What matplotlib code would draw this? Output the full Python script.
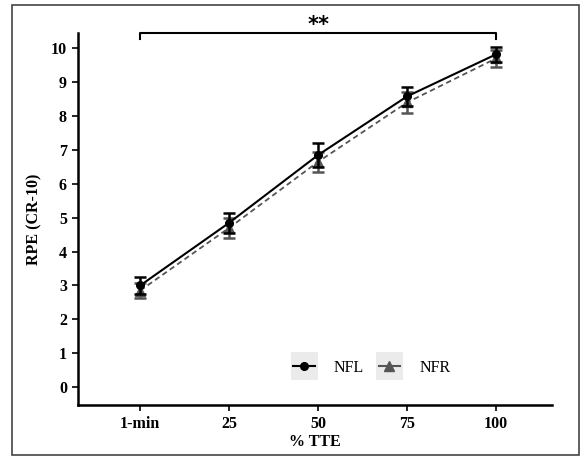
import matplotlib.pyplot as plt
from matplotlib.patches import Rectangle
from matplotlib.lines import Line2D

plt.rcParams["font.family"] = ["Liberation Serif", "DejaVu Serif"]

stages = ["1-min", "25", "50", "75", "100"]
nfl_mean = [3.0, 4.85, 6.85, 8.58, 9.82]
nfl_err = [0.25, 0.30, 0.35, 0.27, 0.22]
nfr_mean = [2.85, 4.70, 6.65, 8.40, 9.70]
nfr_err = [0.22, 0.30, 0.30, 0.30, 0.26]

black = "black"
grey = "#555555"

fig = plt.figure(figsize=(5.83, 4.59), dpi=100)
ax = fig.add_axes([0.1338, 0.1176, 0.813, 0.8104])

x = list(range(len(stages)))
ax.errorbar(x, nfr_mean, yerr=nfr_err, color=grey, ecolor=grey, linestyle=(0, (3, 2)),
            linewidth=1.3, marker="^", markersize=6.5, capsize=4.3, capthick=1.8,
            elinewidth=1.8, zorder=3)
ax.errorbar(x, nfl_mean, yerr=nfl_err, color=black, ecolor=black, linestyle="-",
            linewidth=1.5, marker="o", markersize=5.5, capsize=4.3, capthick=1.8,
            elinewidth=1.8, zorder=4)

ax.set_xlim(-0.7, 4.63)
ax.set_ylim(-0.53, 10.45)
ax.set_xticks(x)
ax.set_xticklabels(stages)
ax.set_yticks(range(0, 11))
for lab in ax.get_xticklabels() + ax.get_yticklabels():
    lab.set_fontweight("bold")
    lab.set_fontsize(11.5)
ax.tick_params(axis="both", length=4, width=1.2, colors="black", pad=4)

for side in ["top", "right"]:
    ax.spines[side].set_visible(False)
for side in ["left", "bottom"]:
    ax.spines[side].set_linewidth(1.8)

ax.set_xlabel("% TTE", fontsize=11.5, fontweight="bold", labelpad=1)
ax.set_ylabel("RPE (CR-10)", fontsize=11.5, fontweight="bold", labelpad=6)

# significance bracket between first and last stage
ax.plot([0, 0, 4, 4], [10.27, 10.45, 10.45, 10.27], color="black", linewidth=1.5,
        clip_on=False)
ax.text(2, 10.38, "**", ha="center", va="bottom", fontsize=15, fontweight="bold",
        family="DejaVu Sans", clip_on=False)

# legend with grey key backgrounds
h_nfl = Line2D([], [], color=black, linewidth=1.5, marker="o", markersize=5.5)
h_nfr = Line2D([], [], color=grey, linewidth=1.5, marker="^", markersize=6.5)
leg = ax.legend([h_nfl, h_nfr], ["NFL", "NFR"], loc="center",
                bbox_to_anchor=(0.62, 0.10), ncol=2, frameon=False, fontsize=11.5,
                handlelength=1.35, handletextpad=1.2, columnspacing=0.9)
leg.set_zorder(6)
fig.canvas.draw()
renderer = fig.canvas.get_renderer()
inv = ax.transAxes.inverted()
for line in leg.get_lines():
    bb = line.get_window_extent(renderer)
    cx = (bb.x0 + bb.x1) / 2
    cy = (bb.y0 + bb.y1) / 2
    w, h = 27, 28
    (ax0, ay0) = inv.transform((cx - w / 2, cy - h / 2))
    (ax1, ay1) = inv.transform((cx + w / 2, cy + h / 2))
    ax.add_patch(Rectangle((ax0, ay0), ax1 - ax0, ay1 - ay0, transform=ax.transAxes,
                           facecolor="#EBEBEB", edgecolor="none", zorder=1))

# outer frame
fig.patches.append(Rectangle((12 / 583, 4 / 459), 567 / 583, 450 / 459,
                             transform=fig.transFigure, facecolor="none",
                             edgecolor="#444444", linewidth=1.2, zorder=10))

fig.savefig("out.png", dpi=100)
